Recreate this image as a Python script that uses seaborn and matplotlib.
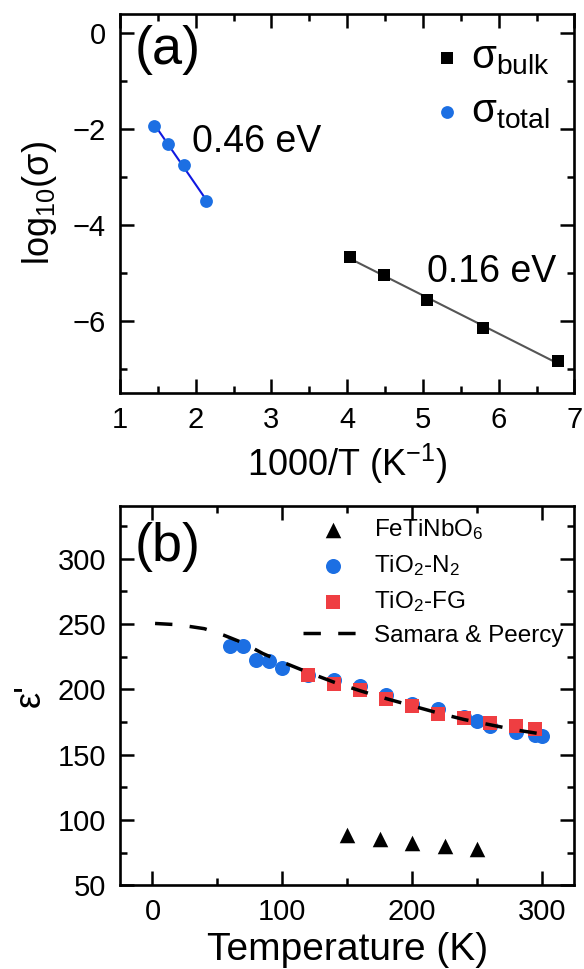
import matplotlib
matplotlib.use("Agg")
import matplotlib.pyplot as plt
from matplotlib.ticker import MultipleLocator
import seaborn as sns

# ---- (a) Arrhenius plot of the conductivity ----
inv_t_bulk = [4.04, 4.49, 5.06, 5.79, 6.78]
log_sigma_bulk = [-4.66, -5.05, -5.56, -6.15, -6.83]
inv_t_total = [1.45, 1.63, 1.85, 2.13]
log_sigma_total = [-1.93, -2.30, -2.74, -3.50]
ea_text = ["0.46 eV", "0.16 eV"]
ea_pos_x = [1.95, 5.05]
ea_pos_y = [-2.26, -4.97]

# ---- (b) real permittivity vs temperature ----
t_fetinbo = [150, 175, 200, 225, 250]
eps_fetinbo = [88.8, 85.2, 82.7, 80.1, 78.1]
t_n2 = [60, 70, 80, 90, 100, 120, 140, 160, 180, 200, 220, 240, 250, 260, 280, 295, 300]
eps_n2 = [233.6, 232.9, 222.9, 221.6, 216.6, 210.7, 206.9, 202.3, 195.4, 188.5,
          184.7, 178.8, 176.2, 172.4, 167.8, 165.5, 164.2]
t_fg = [120, 140, 160, 180, 200, 220, 240, 260, 280, 295]
eps_fg = [210.7, 204.3, 199.2, 192.8, 187.2, 181.4, 178.0, 174.2, 171.7, 169.9]
t_sp = [2, 20, 40, 55, 70, 85, 100, 120, 140, 160, 180, 200, 220, 240, 260, 280, 296]
eps_sp = [250.5, 249.5, 246.5, 241.5, 235.5, 227.5, 221, 213, 205.5, 199, 193,
          187.5, 182, 177, 173, 169, 166.5]

BLUE = "#1c6fe3"
RED = "#ef3e42"

sns.set_style("ticks")
plt.rcParams.update({
    "font.family": ["Liberation Sans", "DejaVu Sans"],
    "mathtext.fontset": "custom",
    "mathtext.rm": "Liberation Sans",
    "mathtext.it": "Liberation Sans:italic",
    "mathtext.bf": "Liberation Sans:bold",
    "text.color": "black",
    "axes.labelcolor": "black",
    "axes.linewidth": 1.9,
    "axes.edgecolor": "black",
    "xtick.direction": "in",
    "ytick.direction": "in",
    "xtick.top": True,
    "ytick.right": True,
    "xtick.major.size": 10,
    "ytick.major.size": 10,
    "xtick.minor.size": 5,
    "ytick.minor.size": 5,
    "xtick.major.width": 1.8,
    "ytick.major.width": 1.8,
    "xtick.minor.width": 1.8,
    "ytick.minor.width": 1.8,
    "xtick.major.pad": 9,
    "ytick.major.pad": 10,
    "xtick.color": "black",
    "ytick.color": "black",
    "xtick.labelcolor": "black",
    "ytick.labelcolor": "black",
    "xtick.labelsize": 21,
    "ytick.labelsize": 21,
})

fig = plt.figure(figsize=(5.84, 9.69), dpi=100)
ax1 = fig.add_axes([0.2055, 0.5944, 0.778, 0.3912])
ax2 = fig.add_axes([0.2055, 0.0862, 0.778, 0.3911])

# (a)
sns.regplot(x=inv_t_total, y=log_sigma_total, ax=ax1, scatter=False, ci=None,
            color="#1018e0", line_kws=dict(lw=1.5, zorder=2))
sns.regplot(x=inv_t_bulk, y=log_sigma_bulk, ax=ax1, scatter=False, ci=None,
            color="#555555", line_kws=dict(lw=1.5, zorder=2))
sns.scatterplot(x=inv_t_bulk, y=log_sigma_bulk, ax=ax1, marker="s", color="black",
                s=64, linewidth=0, label="σ$_{\\mathrm{bulk}}$", zorder=3)
sns.scatterplot(x=inv_t_total, y=log_sigma_total, ax=ax1, marker="o", color=BLUE,
                s=85, linewidth=0, label="σ$_{\\mathrm{total}}$", zorder=3)
for txt, xx, yy in zip(ea_text, ea_pos_x, ea_pos_y):
    ax1.text(xx, yy, txt, fontsize=27, ha="left", va="center")

ax1.set_xlim(1, 7)
ax1.set_ylim(-7.5, 0.4)
ax1.xaxis.set_major_locator(MultipleLocator(1))
ax1.xaxis.set_minor_locator(MultipleLocator(0.5))
ax1.yaxis.set_major_locator(MultipleLocator(2))
ax1.yaxis.set_minor_locator(MultipleLocator(1))
ax1.tick_params(which="both", top=True, right=True)
ax1.set_xlabel("1000/T (K$^{-1}$)", fontsize=26, labelpad=6)
ax1.set_ylabel("log$_{10}$(σ)", fontsize=26)
ax1.yaxis.set_label_coords(-0.135, 0.5)
ax1.text(0.033, 0.904, "(a)", transform=ax1.transAxes, fontsize=39,
         ha="left", va="center")
ax1.legend(loc="upper right", frameon=False, fontsize=29, handletextpad=0.1,
           labelspacing=0.4, borderaxespad=0.2, handlelength=1.0)

# (b)
sns.scatterplot(x=t_fetinbo, y=eps_fetinbo, ax=ax2, marker="^", color="black",
                s=125, linewidth=0, label="FeTiNbO$_6$", zorder=3)
sns.scatterplot(x=t_n2, y=eps_n2, ax=ax2, marker="o", color=BLUE,
                s=117, linewidth=0, label="TiO$_2$-N$_2$", zorder=3)
sns.scatterplot(x=t_fg, y=eps_fg, ax=ax2, marker="s", color=RED,
                s=88, linewidth=0, label="TiO$_2$-FG", zorder=4)
sns.lineplot(x=t_sp, y=eps_sp, ax=ax2, color="black", lw=2.5,
             linestyle=(0, (5, 5)), label="Samara & Peercy", zorder=5)

ax2.set_xlim(-25, 325)
ax2.set_ylim(50, 340)
ax2.xaxis.set_major_locator(MultipleLocator(100))
ax2.xaxis.set_minor_locator(MultipleLocator(50))
ax2.yaxis.set_major_locator(MultipleLocator(50))
ax2.yaxis.set_minor_locator(MultipleLocator(25))
ax2.tick_params(which="both", top=True, right=True)
ax2.set_xlabel("Temperature (K)", fontsize=28, labelpad=4)
ax2.set_ylabel("ε'", fontsize=26)
ax2.yaxis.set_label_coords(-0.16, 0.5)
ax2.text(0.033, 0.892, "(b)", transform=ax2.transAxes, fontsize=39,
         ha="left", va="center")
ax2.legend(loc="upper right", frameon=False, fontsize=17.5, handletextpad=0.5,
           labelspacing=0.45, borderaxespad=0.05, handlelength=2.4)

fig.savefig("out.png", dpi=100)
